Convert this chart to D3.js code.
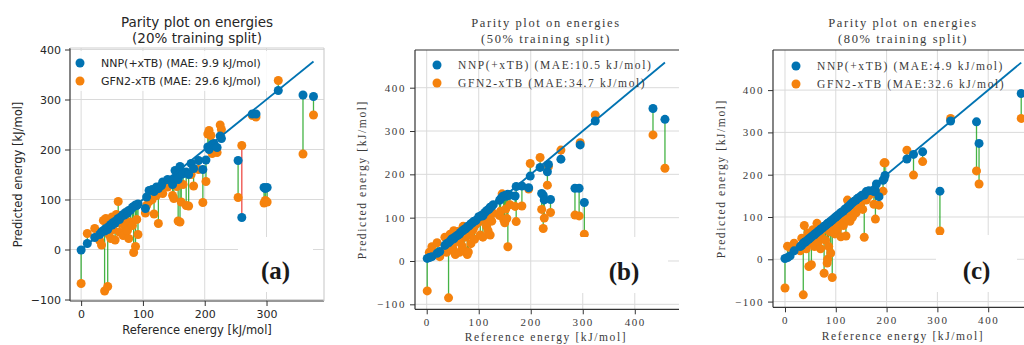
<!DOCTYPE html>
<html>
<head>
<meta charset="utf-8">
<script src="https://cdn.jsdelivr.net/npm/d3@7/dist/d3.min.js"></script>
<style>
  html, body { margin: 0; padding: 0; background: #fff; }
  svg { display: block; }
</style>
</head>
<body>
<svg id="chart" width="1024" height="345"></svg>
<script>
/* ---------- data (kJ/mol) ---------- */

// (a) 20% training split
const refA = [0, 10, 22, 30, 33, 36, 38, 40, 43, 45, 48, 50, 52, 55, 57, 60, 62, 65, 68, 70, 72, 75, 77, 80, 83, 85, 88, 90, 92,
  104, 106, 110, 115, 118, 122, 125, 130, 132, 140, 148, 150, 152, 155, 157, 160, 162, 165, 170, 174, 178, 182, 190, 197,
  202, 205, 207, 210, 212, 215, 220, 225, 227, 254, 260, 277, 283, 296, 298, 301, 319, 359, 376];
const nnpA = [-1, 12, 24, 30, 35, 38, 37, 42, 40, 46, 50, 49, 54, 53, 58, 62, 60, 66, 70, 69, 74, 73, 78, 79, 84, 86, 89, 88, 91,
  82, 105, 118, 120, 116, 125, 122, 128, 135, 140, 130, 142, 158, 145, 140, 166, 150, 152, 155, 150, 172, 162, 178, 160,
  179, 205, 200, 206, 210, 212, 204, 227, 222, 178, 64, 271, 271, 124, 122, 124, 318, 309, 306];
const gfnA = [-68, 32, 42, 18, 9, 58, -83, 62, -74, 30, 22, 65, 40, 19, 70, 96, 35, 52, 28, 60, 45, 38, 22, 55, 48, -6, 6, 60, 30,
  73, 88, 96, 100, 71, 108, 52, 118, 112, 125, 108, 102, 132, 126, 57, 55, 95, 130, 88, 87, 150, 127, 160, 94,
  136, 231, 238, 228, 192, 195, 194, 249, 240, 104, 208, 268, 265, 93, 98, 95, 338, 191, 269];

// (b) 50% training split
const refB = [1, 5, 10, 20, 25, 35, 38, 42, 45, 48, 50, 52, 55, 58, 60, 63, 65, 68, 70, 72, 75, 78, 80, 82, 85, 88, 90, 92, 95,
  100, 103, 106, 108, 112, 115, 118, 120, 122, 125, 128, 140, 142, 145, 148, 150, 152, 154, 156, 160, 170, 172, 183, 196,
  199, 218, 221, 224, 226, 232, 234, 238, 258, 285, 293, 295, 303, 324, 435, 458];
const nnpB = [6, 8, 10, 18, 22, 36, 40, 42, 46, 50, 52, 51, 56, 58, 60, 62, 66, 69, 70, 73, 74, 79, 80, 82, 86, 88, 91, 92, 94,
  102, 103, 106, 104, 112, 116, 118, 120, 124, 126, 130, 140, 143, 148, 150, 150, 152, 150, 154, 152, 150, 172, 173, 169,
  196, 216, 156, 152, 141, 206, 223, 142, 235, 168, 168, 268, 135, 323, 352, 327];
const gfnB = [-69, 20, 33, 42, 10, 55, 20, -85, 62, 25, 30, 70, 15, 45, 68, 20, 50, 35, 80, 25, 55, 15, 21, 60, 40, 70, 75, 50, 85,
  90, 60, 95, 55, 95, 80, 70, 100, 60, 92, 110, 105, 115, 155, 95, 88, 120, 98, 33, 130, 126, 91, 127, 166,
  225, 239, 119, 75, 99, 175, 218, 112, 256, 106, 104, 273, 62, 337, 291, 214];

// (c) 80% training split
const refC = [0, 5, 10, 18, 30, 33, 36, 38, 40, 42, 45, 47, 50, 52, 55, 58, 60, 63, 65, 68, 70, 73, 75, 77, 80, 83, 84, 86, 88,
  90, 93, 95, 98, 100, 103, 105, 108, 110, 112, 115, 118, 120, 123, 125, 128, 130, 133, 136, 140, 143, 146, 150, 153, 156,
  160, 165, 175, 178, 180, 185, 193, 195, 197, 240, 253, 271, 305, 326, 377, 382, 465];
const nnpC = [2, 4, 8, 20, 30, 33, 38, 40, 41, 43, 46, 48, 51, 53, 56, 58, 61, 63, 66, 68, 71, 73, 75, 78, 80, 83, 85, 86, 88,
  90, 93, 95, 98, 100, 103, 105, 108, 110, 112, 114, 118, 120, 122, 125, 128, 131, 134, 137, 140, 144, 146, 150, 152, 152,
  160, 162, 160, 162, 178, 148, 187, 190, 198, 237, 248, 254, 161, 327, 325, 274, 392];
const gfnC = [-68, 31, 28, 38, 20, 50, -84, 80, 45, 25, 62, -17, 40, -13, 70, 30, 55, 85, 40, 60, 25, 50, 70, -33, 45, -9, 0, 30, 65,
  15, -43, 75, 60, 85, 70, 90, 85, 53, 95, 80, 100, 55, 140, 105, 90, 115, 100, 120, 110, 130, 120, 135, 118, 52,
  140, 150, 130, 95, 154, 128, 161, 228, 228, 258, 199, 231, 67, 333, 209, 178, 333];

const ticksA = { x: [0, 100, 200, 300], y: [-100, 0, 100, 200, 300, 400] };
const ticksBC = { x: [0, 100, 200, 300, 400], y: [-100, 0, 100, 200, 300, 400] };

const titleLine1 = "Parity plot on energies";
const splits = ["(20% training split)", "(50% training split)", "(80% training split)"];
const maeNNP = ["NNP(+xTB) (MAE: 9.9 kJ/mol)", "NNP(+xTB) (MAE:10.5 kJ/mol)", "NNP(+xTB) (MAE:4.9 kJ/mol)"];
const maeGFN = ["GFN2-xTB (MAE: 29.6 kJ/mol)", "GFN2-xTB (MAE:34.7 kJ/mol)", "GFN2-xTB (MAE:32.6 kJ/mol)"];
const letters = ["(a)", "(b)", "(c)"];

/* ---------- styles ---------- */
const BLUE = "#0173b2";
const ORANGE = "#f5820d";
const GREEN = "#16a016";
const RED = "#e8201a";
const GRID = "#dadada";

const sansStyle = { family: "'DejaVu Sans', sans-serif", spacing: 0, color: "#262626",
  title: 13.5, tick: 11, label: 11.5, legend: 11 };
const serifStyle = { family: "'Liberation Serif', 'DejaVu Serif', serif", spacing: 1.6, color: "#3a3a3a",
  title: 12.5, tick: 11, label: 11.5, legend: 11.5 };

const svg = d3.select("#chart");

function drawPanel(p, i) {
  const st = p.style;
  const x = d3.scaleLinear().domain(p.xDom).range(p.xRange);
  const y = d3.scaleLinear().domain(p.yDom).range(p.yRange);
  const [x0, x1] = p.xRange;
  const [yb, yt] = p.yRange;
  const right = Math.min(x1, p.clipRight);

  const clipId = "clip" + i;
  svg.append("clipPath").attr("id", clipId)
    .append("rect").attr("x", x0).attr("y", yt).attr("width", right - x0).attr("height", yb - yt);

  const g = svg.append("g");
  const plot = g.append("g").attr("clip-path", `url(#${clipId})`);

  // grid
  plot.selectAll(".gx").data(p.ticks.x).join("line")
    .attr("x1", d => x(d)).attr("x2", d => x(d))
    .attr("y1", yt).attr("y2", yb)
    .attr("stroke", GRID).attr("stroke-width", 1);
  plot.selectAll(".gy").data(p.ticks.y).join("line")
    .attr("x1", x0).attr("x2", x1)
    .attr("y1", d => y(d)).attr("y2", d => y(d))
    .attr("stroke", GRID).attr("stroke-width", 1);

  const pts = p.ref.map((r, k) => ({ r, n: p.nnp[k], f: p.gfn[k] }));

  // error connectors: red where NNP is worse than GFN2-xTB
  plot.selectAll(".conn").data(pts).join("line")
    .attr("x1", d => x(d.r)).attr("x2", d => x(d.r))
    .attr("y1", d => y(d.n)).attr("y2", d => y(d.f))
    .attr("stroke", d => Math.abs(d.n - d.r) > Math.abs(d.f - d.r) ? RED : GREEN)
    .attr("stroke-opacity", 0.8)
    .attr("stroke-width", 1.3);

  // GFN2-xTB
  plot.selectAll(".gfn").data(pts).join("circle")
    .attr("cx", d => x(d.r)).attr("cy", d => y(d.f)).attr("r", 4.5)
    .attr("fill", ORANGE);

  // NNP
  plot.selectAll(".nnp").data(pts).join("circle")
    .attr("cx", d => x(d.r)).attr("cy", d => y(d.n)).attr("r", 4.5)
    .attr("fill", BLUE);

  // parity line
  const [lo, hi] = d3.extent(p.ref);
  plot.append("line")
    .attr("x1", x(lo)).attr("y1", y(lo))
    .attr("x2", x(hi)).attr("y2", y(hi))
    .attr("stroke", BLUE).attr("stroke-width", 1.8);

  // panel letter
  plot.append("rect")
    .attr("x", p.letterBox[0]).attr("y", p.letterBox[1])
    .attr("width", p.letterBox[2]).attr("height", p.letterBox[3])
    .attr("fill", "#fff");
  plot.append("text")
    .attr("x", p.letterBox[0] + p.letterBox[2] / 2)
    .attr("y", p.letterBox[1] + p.letterBox[3] - 13)
    .attr("text-anchor", "middle")
    .style("font-family", "'Liberation Serif', serif")
    .style("font-weight", "bold")
    .style("font-size", "25px")
    .style("fill", "#1a1a1a")
    .text(letters[i]);

  // legend
  if (p.legendBg) {
    plot.append("rect")
      .attr("x", x0 + 3).attr("y", yt + 3)
      .attr("width", 200).attr("height", 40)
      .attr("fill", "#fff").attr("fill-opacity", 0.85);
  }
  const legend = g.append("g");
  [[BLUE, maeNNP[i]], [ORANGE, maeGFN[i]]].forEach(([c, t], k) => {
    const ly = p.legendY + k * 18;
    legend.append("circle").attr("cx", p.legendX).attr("cy", ly).attr("r", 4.5).attr("fill", c);
    legend.append("text")
      .attr("x", p.legendX + 21).attr("y", ly + 4)
      .style("font-family", st.family).style("font-size", st.legend + "px")
      .style("letter-spacing", st.spacing + "px")
      .style("fill", st.color)
      .text(t);
  });

  // spines
  g.append("line").attr("x1", x0).attr("x2", right).attr("y1", yb).attr("y2", yb)
    .attr("stroke", "#333").attr("stroke-width", 1.2);
  g.append("line").attr("x1", x0).attr("x2", x0).attr("y1", yt).attr("y2", yb)
    .attr("stroke", "#333").attr("stroke-width", 1.2);
  g.append("line").attr("x1", x0).attr("x2", right).attr("y1", yt).attr("y2", yt)
    .attr("stroke", p.topSpine).attr("stroke-width", 1.2);
  if (p.rightSpine) {
    g.append("line").attr("x1", x1).attr("x2", x1).attr("y1", yt).attr("y2", yb)
      .attr("stroke", p.rightSpine).attr("stroke-width", 1.2);
  }

  // axes
  const xAxis = g.append("g").attr("transform", `translate(0,${yb})`)
    .call(d3.axisBottom(x).tickValues(p.ticks.x).tickSize(5).tickPadding(4).tickFormat(d3.format("d")));
  const yAxis = g.append("g").attr("transform", `translate(${x0},0)`)
    .call(d3.axisLeft(y).tickValues(p.ticks.y).tickSize(5).tickPadding(4).tickFormat(d => d < 0 ? "\u2212" + (-d) : d));
  [xAxis, yAxis].forEach(ax => {
    ax.select(".domain").remove();
    ax.selectAll(".tick line").attr("stroke", "#333");
    ax.selectAll(".tick text")
      .style("font-family", st.family).style("font-size", st.tick + "px")
      .style("letter-spacing", st.spacing + "px")
      .style("fill", st.color);
  });

  // titles & labels
  const cx = p.titleX;
  const title = g.append("text").attr("text-anchor", "middle")
    .style("font-family", st.family).style("font-size", st.title + "px")
    .style("letter-spacing", st.spacing + "px").style("fill", st.color);
  title.append("tspan").attr("x", cx).attr("y", 27).text(titleLine1);
  title.append("tspan").attr("x", cx).attr("y", 43).text(splits[i]);

  g.append("text").attr("x", cx).attr("y", p.xLabelY).attr("text-anchor", "middle")
    .style("font-family", st.family).style("font-size", st.label + "px")
    .style("letter-spacing", st.spacing + "px").style("fill", st.color)
    .text("Reference energy [kJ/mol]");

  g.append("text")
    .attr("transform", `translate(${p.yLabelX},${(yt + yb) / 2}) rotate(-90)`)
    .attr("text-anchor", "middle")
    .style("font-family", st.family).style("font-size", st.label + "px")
    .style("letter-spacing", st.spacing + "px").style("fill", st.color)
    .text("Predicted energy [kJ/mol]");
}

const panels = [
  { ref: refA, nnp: nnpA, gfn: gfnA, ticks: ticksA, style: sansStyle,
    xDom: [-18, 393], xRange: [70, 324], yDom: [-103, 403], yRange: [301, 48], clipRight: 324,
    topSpine: "#cfcfcf", rightSpine: "#cfcfcf", legendBg: true,
    legendX: 80, legendY: 63, titleX: 197, xLabelY: 334, yLabelX: 22,
    letterBox: [238, 237, 75, 55] },
  { ref: refB, nnp: nnpB, gfn: gfnB, ticks: ticksBC, style: serifStyle,
    xDom: [-22.5, 485], xRange: [415, 679], yDom: [-111.5, 487], yRange: [309.3, 50], clipRight: 680,
    topSpine: "#333", rightSpine: null, legendBg: false,
    legendX: 437, legendY: 65, titleX: 546, xLabelY: 341, yLabelX: 366,
    letterBox: [580, 237, 88, 56] },
  { ref: refC, nnp: nnpC, gfn: gfnC, ticks: ticksBC, style: serifStyle,
    xDom: [-23.6, 482.3], xRange: [773, 1030], yDom: [-113.5, 494.8], yRange: [307.3, 50], clipRight: 1030,
    topSpine: "#333", rightSpine: null, legendBg: false,
    legendX: 796, legendY: 66, titleX: 903, xLabelY: 340, yLabelX: 725,
    letterBox: [936, 235, 81, 57] }
];

panels.forEach(drawPanel);
</script>
</body>
</html>
